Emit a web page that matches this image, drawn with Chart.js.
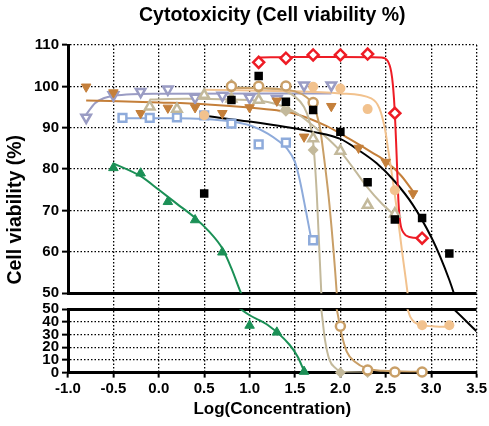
<!DOCTYPE html>
<html>
<head>
<meta charset="utf-8">
<script src="https://cdn.jsdelivr.net/npm/chart.js@4.4.0/dist/chart.umd.min.js"></script>
<style>
  html, body { margin: 0; padding: 0; background: #fff; }
  #wrap { width: 489px; height: 426px; }
</style>
</head>
<body>
<div id="wrap"><canvas id="cytoChart"></canvas></div>
<script>
// x = log10(concentration), y = % viable cells
const xTicks = [-1.0, -0.5, 0.0, 0.5, 1.0, 1.5, 2.0, 2.5, 3.0, 3.5];
const xTickLabels = ['-1.0', '-0.5', '0.0', '0.5', '1.0', '1.5', '2.0', '2.5', '3.0', '3.5'];
const upperTicks = [50, 60, 70, 80, 90, 100, 110];
const lowerTicks = [0, 10, 20, 30, 40, 50];

// measured points
const blackX = [0.5, 0.8, 1.1, 1.4, 1.7, 2.0, 2.3, 2.6, 2.9, 3.2];
const blackY = [74.1, 96.7, 102.5, 96.3, 94.3, 89.0, 76.8, 67.8, 68.2, 59.6];
const redX = [1.1, 1.4, 1.7, 2.0, 2.3, 2.6, 2.9];
const redY = [105.8, 106.8, 107.6, 107.6, 107.8, 93.5, 63.3];
const greenX = [-0.5, -0.2, 0.1, 0.4, 0.7, 1.0, 1.3, 1.6];
const greenY = [80.3, 79.0, 72.1, 67.7, 59.9, 37.2, 31.8, 0.8];
const blueX = [-0.4, -0.1, 0.2, 0.5, 0.8, 1.1, 1.4, 1.7];
const blueY = [92.4, 92.4, 92.5, 93.0, 91.0, 86.0, 86.4, 62.8];
const lavX = [-0.8, -0.5, -0.2, 0.1, 0.4, 0.7, 1.0, 1.3, 1.6, 1.9];
const lavY = [92.5, 97.9, 98.7, 99.3, 97.3, 97.8, 97.3, 97.0, 100.3, 100.3];
const brownX = [-0.8, -0.5, -0.2, 0.1, 0.4, 0.7, 1.0, 1.3, 1.6, 1.9, 2.2, 2.5, 2.8];
const brownY = [99.9, 98.5, 93.5, 94.8, 94.9, 93.5, 94.9, 96.5, 87.8, 95.2, 85.1, 81.7, 74.1];
const khakiTriX = [-0.1, 0.2, 0.5, 0.8, 1.1, 1.4, 1.7, 2.0, 2.3, 2.6];
const khakiTriY = [95.1, 94.5, 97.9, 97.0, 96.7, 94.7, 87.4, 84.4, 71.3, 69.2];
const khakiDiaX = [0.8, 1.1, 1.4, 1.7, 2.0, 2.3];
const khakiDiaY = [100.5, 99.5, 94.0, 84.6, 0.0, 0.0];
const peachX = [0.5, 0.8, 1.1, 1.4, 1.7, 2.0, 2.3, 2.6, 2.9, 3.2];
const peachY = [93.0, 99.8, 99.8, 99.8, 99.9, 99.5, 94.5, 74.9, 37.4, 37.4];
const tanX = [0.8, 1.1, 1.4, 1.7, 2.0, 2.3, 2.6, 2.9];
const tanY = [100.0, 100.0, 100.1, 96.1, 36.6, 2.0, 0.5, 0.5];

// fitted curves, sampled
const blackFitX = [0.5, 1.0, 1.4, 1.7, 2.0, 2.2, 2.4, 2.6, 2.8, 3.0, 3.1, 3.2, 3.25, 3.5];
const blackFitY = [92.9, 91.5, 90.2, 89.0, 87.3, 84.6, 81.4, 77.0, 71.3, 63.6, 58.8, 53.2, 50.0, 32.6];
const redFitX = [1.1, 1.5, 2.0, 2.45, 2.52, 2.56, 2.58, 2.6, 2.62, 2.64, 2.66, 2.7, 2.76, 2.9];
const redFitY = [107.0, 107.1, 107.1, 107.0, 106.2, 103.5, 100.0, 93.5, 83.0, 72.0, 67.0, 64.5, 63.6, 63.3];
const greenFitX = [-0.5, -0.2, 0.0, 0.2, 0.4, 0.55, 0.7, 0.8, 0.9, 1.0, 1.2, 1.44, 1.53, 1.6];
const greenFitY = [81.4, 78.3, 75.0, 71.6, 68.2, 65.0, 60.8, 56.0, 50.3, 45.3, 37.6, 22.0, 12.5, 1.2];
const blueFitX = [-0.4, 0.2, 0.5, 0.8, 1.0, 1.2, 1.33, 1.41, 1.5, 1.55, 1.6, 1.64, 1.68];
const blueFitY = [92.3, 92.3, 92.1, 91.5, 90.6, 88.6, 86.6, 85.0, 81.7, 77.6, 72.2, 67.6, 63.0];
const lavFitX = [-0.8, -0.7, -0.6, -0.5, -0.3, 0.0, 1.9];
const lavFitY = [93.2, 96.0, 97.2, 97.7, 98.1, 98.2, 98.3];
const brownFitX = [-0.8, 0.0, 0.5, 1.0, 1.3, 1.5, 1.85, 2.1, 2.35, 2.5, 2.67, 2.82];
const brownFitY = [96.6, 96.1, 95.7, 94.9, 94.2, 93.4, 90.4, 87.3, 84.0, 81.9, 78.4, 74.0];
const khakiTriFitX = [-0.1, 0.3, 0.8, 1.2, 1.5, 1.7, 1.85, 2.0, 2.15, 2.3, 2.45, 2.6];
const khakiTriFitY = [96.8, 97.0, 96.8, 96.2, 93.8, 90.5, 87.6, 84.3, 80.0, 75.5, 71.8, 68.8];
const khakiDiaFitX = [0.8, 1.3, 1.5, 1.6, 1.66, 1.7, 1.74, 1.79, 1.83, 1.88, 1.95, 2.0, 2.3];
const khakiDiaFitY = [99.8, 99.3, 97.5, 95.0, 91.5, 86.5, 74.0, 50.0, 26.0, 10.0, 3.3, 0.8, 0.0];
const peachFitX = [0.5, 1.0, 1.5, 2.0, 2.34, 2.43, 2.49, 2.53, 2.58, 2.62, 2.68, 2.74, 2.77, 2.82, 2.9, 3.05, 3.2];
const peachFitY = [99.2, 99.0, 98.8, 98.3, 97.1, 94.7, 89.8, 84.2, 76.9, 70.5, 60.0, 50.0, 44.0, 39.5, 37.5, 36.5, 36.2];
const tanFitX = [0.8, 1.3, 1.5, 1.62, 1.7, 1.77, 1.83, 1.88, 1.96, 2.01, 2.07, 2.16, 2.29, 2.47, 2.9];
const tanFitY = [99.6, 99.4, 98.8, 97.5, 95.5, 90.6, 81.0, 71.3, 50.0, 31.3, 16.6, 8.6, 3.3, 1.4, 0.6];

const titleText = 'Cytotoxicity (Cell viability %)';
const xTitle = 'Log(Concentration)';
const yTitle = 'Cell viability (%)';

const BREAK = 50;
const FONT = '"Liberation Sans", Arial, Helvetica, sans-serif';

function pts(xs, ys) {
  return xs.map((x, i) => ({ x: x, y: ys[i] }));
}

// symbols go on whichever side of the axis break they fall
function symbols(xs, ys, style) {
  const all = pts(xs, ys);
  const base = Object.assign({ showLine: false, clip: 10, order: 0 }, style);
  return [
    Object.assign({}, base, { yAxisID: 'yTop', data: all.filter(p => p.y >= BREAK) }),
    Object.assign({}, base, { yAxisID: 'yBot', data: all.filter(p => p.y < BREAK) })
  ];
}

// a curve is drawn on both segments and clipped to each
function curve(xs, ys, color) {
  const data = pts(xs, ys);
  const base = {
    showLine: true, borderColor: color, borderWidth: 2, pointRadius: 0,
    cubicInterpolationMode: 'monotone', order: 1
  };
  return [
    Object.assign({}, base, { yAxisID: 'yTop', data: data }),
    Object.assign({}, base, { yAxisID: 'yBot', data: data })
  ];
}

const C = {
  black: '#000000', red: '#ee1c25', green: '#1b9056', blue: '#8eabdb',
  lav: '#9a9cc4', brown: '#c47f3a', khaki: '#c3b99b', peach: '#f2c28e', tan: '#c99f67'
};

const datasets = [].concat(
  symbols(redX, redY, { pointStyle: 'rectRot', pointRadius: 5.5, borderWidth: 2.5, borderColor: C.red, backgroundColor: '#fff' }),
  symbols(blackX, blackY, { pointStyle: 'rect', pointRadius: 6, borderWidth: 0, borderColor: C.black, backgroundColor: C.black }),
  symbols(greenX, greenY, { pointStyle: 'triangle', pointRadius: 5.5, borderWidth: 1, borderColor: C.green, backgroundColor: C.green }),
  symbols(tanX, tanY, { pointStyle: 'circle', pointRadius: 4.5, borderWidth: 2.5, borderColor: C.tan, backgroundColor: '#fff' }),
  symbols(peachX, peachY, { pointStyle: 'circle', pointRadius: 5, borderWidth: 0, borderColor: C.peach, backgroundColor: C.peach }),
  symbols(khakiDiaX, khakiDiaY, { pointStyle: 'rectRot', pointRadius: 5.5, borderWidth: 0, borderColor: C.khaki, backgroundColor: C.khaki }),
  symbols(khakiTriX, khakiTriY, { pointStyle: 'triangle', pointRadius: 5.5, borderWidth: 2.5, borderColor: C.khaki, backgroundColor: '#fff' }),
  symbols(brownX, brownY, { pointStyle: 'triangle', pointRotation: 180, pointRadius: 5.5, borderWidth: 1, borderColor: C.brown, backgroundColor: C.brown }),
  symbols(lavX, lavY, { pointStyle: 'triangle', pointRotation: 180, pointRadius: 5.5, borderWidth: 2.5, borderColor: C.lav, backgroundColor: '#fff' }),
  symbols(blueX, blueY, { pointStyle: 'rect', pointRadius: 5.5, borderWidth: 2.5, borderColor: C.blue, backgroundColor: '#fff' }),
  curve(redFitX, redFitY, C.red),
  curve(blackFitX, blackFitY, C.black),
  curve(greenFitX, greenFitY, C.green),
  curve(tanFitX, tanFitY, C.tan),
  curve(peachFitX, peachFitY, C.peach),
  curve(khakiDiaFitX, khakiDiaFitY, C.khaki),
  curve(khakiTriFitX, khakiTriFitY, C.khaki),
  curve(brownFitX, brownFitY, C.brown),
  curve(lavFitX, lavFitY, C.lav),
  curve(blueFitX, blueFitY, C.blue)
);

const tickFont = { family: FONT, size: 15, weight: 'bold', lineHeight: 1 };

function valueAxis(lo, hi, ticks, weight, stackWeight) {
  return {
    type: 'linear', position: 'left', stack: 'viability', stackWeight: stackWeight, weight: weight,
    min: lo, max: hi,
    afterBuildTicks: s => { s.ticks = ticks.map(v => ({ value: v })); },
    afterFit: s => { s.width = 36; },
    ticks: { font: tickFont, color: '#000', padding: 3, autoSkip: false },
    grid: {
      color: '#000',
      lineWidth: c => (c.tick && c.tick.value === BREAK ? 3 : 1.3),
      tickColor: '#000', tickLength: 6, tickWidth: 2, tickBorderDash: []
    },
    border: {
      display: true, color: '#000', width: 3,
      dash: c => (c.tick && c.tick.value === BREAK ? [] : [1.5, 2])
    }
  };
}

// one title spanning both halves of the broken axis
const yTitlePlugin = {
  id: 'yTitle',
  afterDraw(chart) {
    const { ctx, scales } = chart;
    const mid = (scales.yTop.top + scales.yBot.bottom) / 2 + 1;
    ctx.save();
    ctx.translate(16, mid);
    ctx.rotate(-Math.PI / 2);
    ctx.font = 'bold 19.5px ' + FONT;
    ctx.fillStyle = '#000';
    ctx.textAlign = 'center';
    ctx.textBaseline = 'middle';
    ctx.fillText(yTitle, 0, 0);
    ctx.restore();
  }
};

new Chart(document.getElementById('cytoChart'), {
  type: 'scatter',
  data: { datasets: datasets },
  plugins: [yTitlePlugin],
  options: {
    responsive: true,
    maintainAspectRatio: false,
    animation: false,
    layout: { padding: { left: 32, right: 12, top: 0, bottom: 3 } },
    plugins: {
      legend: { display: false },
      tooltip: { enabled: false },
      title: {
        display: true, text: titleText, fullSize: false, color: '#000',
        font: { family: FONT, size: 19.5, weight: 'bold' },
        padding: { top: 4, bottom: 17.6 }
      }
    },
    scales: {
      x: {
        type: 'linear', min: -1, max: 3.5,
        afterBuildTicks: s => { s.ticks = xTicks.map(v => ({ value: v })); },
        ticks: {
          font: { family: FONT, size: 15, weight: 'bold' }, color: '#000', padding: 2,
          maxRotation: 0, autoSkip: false,
          callback: (v, i) => xTickLabels[i]
        },
        grid: {
          color: c => (c.tick && c.tick.value === -1 ? 'rgba(0,0,0,0)' : '#000'),
          lineWidth: 1.3, tickColor: '#000', tickLength: 5, tickWidth: 2, tickBorderDash: []
        },
        border: { display: true, color: '#000', width: 3, dash: [1.5, 2] },
        title: {
          display: true, text: xTitle, color: '#000',
          font: { family: FONT, size: 17, weight: 'bold' },
          padding: { top: 0, bottom: 3 }
        }
      },
      yTop: valueAxis(50, 110, upperTicks, 3, 247),
      yGap: {
        type: 'linear', position: 'left', stack: 'viability', stackWeight: 16, weight: 2,
        min: 0, max: 1,
        afterFit: s => { s.width = 36; },
        ticks: { display: false },
        grid: { display: false, drawTicks: false },
        border: { display: false }
      },
      yBot: valueAxis(0, 50, lowerTicks, 1, 63)
    }
  }
});
</script>
</body>
</html>
